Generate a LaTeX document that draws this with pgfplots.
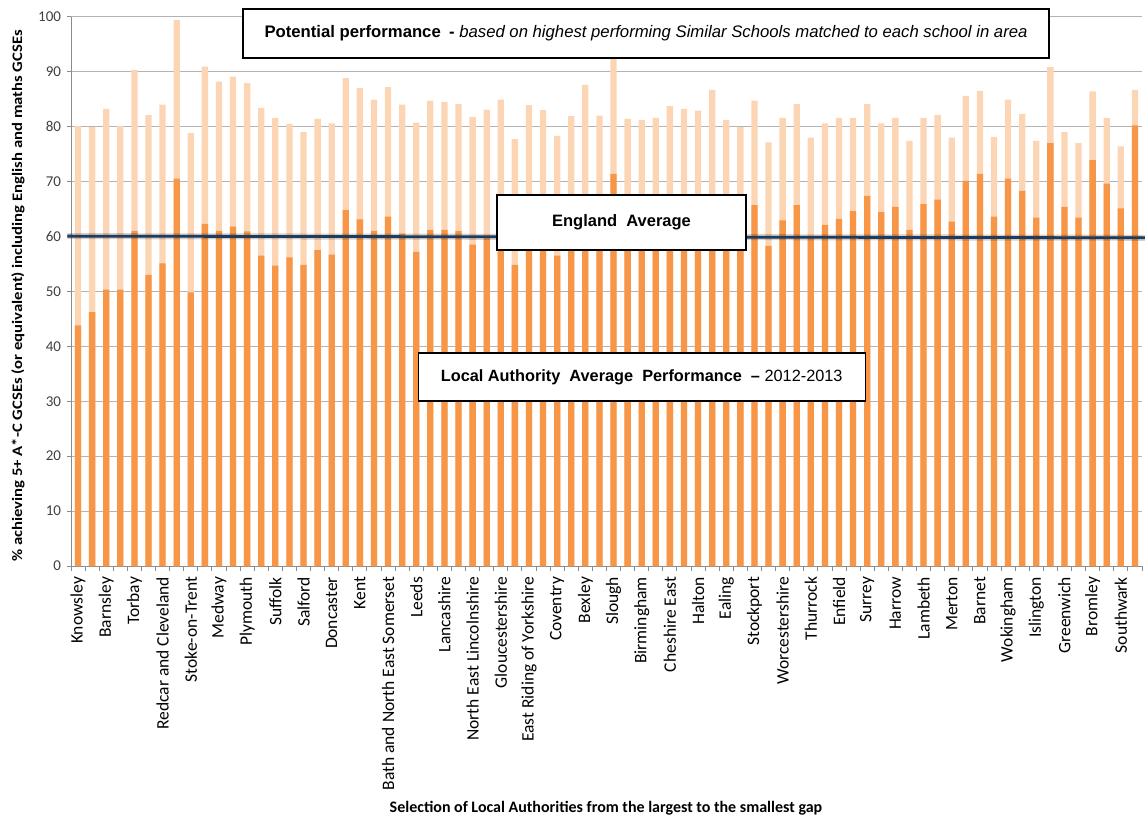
\documentclass[border=0pt]{standalone}
\usepackage{fontspec}
\setmainfont{Carlito}
\newfontfamily\arial{Liberation Sans}
\usepackage{pgfplots}
\pgfplotsset{compat=1.18}
\usepackage{pgfplotstable}

\definecolor{actual}{HTML}{F79646}
\definecolor{potential}{HTML}{FCD5B5}
\definecolor{engavg}{HTML}{1F3B5E}
\definecolor{gridgray}{HTML}{B3B3B3}
\definecolor{axisgray}{HTML}{8C8C8C}

% x = position (largest gap first), pot = potential performance, act = LA average 2012-2013
\pgfplotstableread{
x pot act
0 80.1 43.8
1 79.9 46.2
2 83.2 50.3
3 80.1 50.3
4 90.3 61.0
5 82.1 53.0
6 84.0 55.1
7 99.4 70.5
8 78.8 49.8
9 90.9 62.3
10 88.2 61.0
11 89.1 61.8
12 87.9 60.9
13 83.4 56.5
14 81.6 54.7
15 80.5 56.2
16 79.0 54.8
17 81.4 57.5
18 80.6 56.7
19 88.8 64.8
20 87.0 63.1
21 84.9 61.0
22 87.2 63.6
23 84.0 60.5
24 80.7 57.2
25 84.7 61.2
26 84.5 61.2
27 84.1 61.0
28 81.7 58.5
29 83.1 59.9
30 84.9 61.9
31 77.7 54.8
32 83.9 61.2
33 83.0 60.6
34 78.3 56.5
35 81.9 60.2
36 87.6 66.0
37 82.0 60.5
38 92.8 71.4
39 81.4 60.2
40 81.2 60.2
41 81.6 60.8
42 83.7 63.2
43 83.2 62.9
44 82.9 62.9
45 86.7 66.9
46 81.2 61.6
47 79.9 60.5
48 84.7 65.7
49 77.1 58.3
50 81.6 62.9
51 84.1 65.7
52 78.0 60.0
53 80.6 62.1
54 81.6 63.2
55 81.6 64.6
56 84.1 67.4
57 80.6 64.4
58 81.6 65.4
59 77.4 61.2
60 81.6 65.9
61 82.1 66.7
62 78.0 62.7
63 85.6 70.1
64 86.5 71.4
65 78.1 63.6
66 84.9 70.5
67 82.3 68.3
68 77.4 63.4
69 90.8 77.0
70 79.0 65.4
71 77.0 63.4
72 86.4 73.9
73 81.6 69.6
74 76.4 65.1
75 86.7 80.2
}\gaps

\begin{document}
\begin{tikzpicture}
\useasboundingbox (0pt,0pt) rectangle (1145pt,819pt);
\begin{axis}[
  at={(71pt,253pt)}, anchor=south west,
  scale only axis, width=1071pt, height=549.3pt,
  xmin=-0.5, xmax=75.5, ymin=0, ymax=100,
  axis lines*=left,
  axis line style={axisgray, line width=0.9pt},
  ytick={0,10,...,100},
  ymajorgrids, grid style={gridgray, line width=0.9pt},
  xtick={0,2,...,74},
  xticklabels={Knowsley,Barnsley,Torbay,Redcar and Cleveland,Stoke-on-Trent,Medway,Plymouth,Suffolk,Salford,Doncaster,Kent,Bath and North East Somerset,Leeds,Lancashire,North East Lincolnshire,Gloucestershire,East Riding of Yorkshire,Coventry,Bexley,Slough,Birmingham,Cheshire East,Halton,Ealing,Stockport,Worcestershire,Thurrock,Enfield,Surrey,Harrow,Lambeth,Merton,Barnet,Wokingham,Islington,Greenwich,Bromley,Southwark},
  minor xtick={-0.5,0.5,...,75.5},
  tick align=outside,
  major tick length=4.5pt, minor tick length=5pt,
  x tick style={draw=none},
  minor x tick style={draw=axisgray, line width=0.9pt},
  y tick style={axisgray, line width=0.9pt},
  xticklabel style={rotate=90, anchor=east, font=\fontsize{17.5}{19}\selectfont, xshift=-3pt},
  yticklabel style={font=\fontsize{15}{18}\selectfont, text=black!75, xshift=-2pt},
  /pgf/number format/assume math mode=true,
  clip=false,
]
\addplot[ybar, bar width=6.3pt, bar shift=0pt, fill=potential, draw=none] table[x=x, y=pot] {\gaps};
\addplot[ybar, bar width=6.3pt, bar shift=0pt, fill=actual, draw=none] table[x=x, y=act] {\gaps};
% England average line
\addplot[black, opacity=0.18, line width=6pt] coordinates {(-0.75,60.05) (75.75,59.75)};
\addplot[engavg, line width=2.8pt] coordinates {(-0.75,60.05) (75.75,59.75)};
\end{axis}

% annotation boxes
\node[draw=black, line width=1.3pt, fill=white, minimum width=806pt, minimum height=49pt, inner sep=0pt]
  at (646pt,785.5pt) {\arial\fontsize{16.7}{19}\selectfont\textbf{Potential performance\enspace-} \textit{based on highest performing Similar Schools matched to each school in area}};
\node[draw=black, line width=1.3pt, fill=white, minimum width=249pt, minimum height=55pt, inner sep=0pt]
  at (621.5pt,596.5pt) {\arial\fontsize{16.5}{19}\selectfont\textbf{England\ \ Average}};
\node[draw=black, line width=1.3pt, fill=white, minimum width=447pt, minimum height=48pt, inner sep=0pt]
  at (641.7pt,442pt) {\arial\fontsize{16.3}{19}\selectfont\textbf{Local\ Authority\ \ Average\ \ Performance\ \ –}\ 2012-2013};

% axis titles
\node[rotate=90, xscale=1.15, font=\bfseries\fontsize{14.5}{16}\selectfont] at (18pt,523pt)
  {\% achieving 5+ A*-C GCSEs (or equivalent) including English and maths GCSEs};
\node[font=\bfseries\fontsize{16}{18}\selectfont] at (606pt,11pt)
  {Selection of Local Authorities from the largest to the smallest gap};
\end{tikzpicture}
\end{document}
